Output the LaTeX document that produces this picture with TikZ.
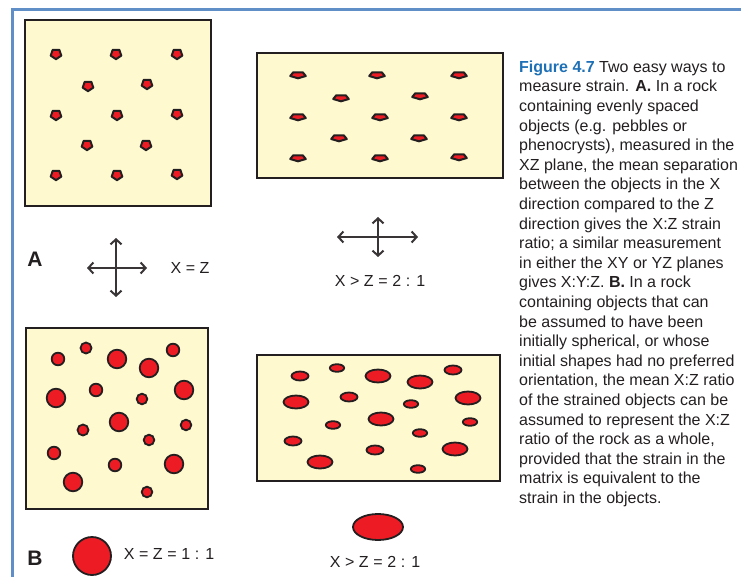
\documentclass[tikz,border=0pt]{standalone}
\usepackage{fontspec}
\setmainfont{Liberation Sans}
\usetikzlibrary{arrows.meta}
\definecolor{frameblue}{RGB}{96,143,200}
\definecolor{ink}{RGB}{35,31,32}
\definecolor{rockfill}{RGB}{255,249,208}
\definecolor{objred}{RGB}{237,28,36}
\definecolor{figblue}{RGB}{30,112,182}
\newcommand\widesp{\spaceskip=4.6pt\relax}
\tikzset{
  rockbox/.style={draw=ink, line width=2.8pt, fill=rockfill},
  obj/.style={draw=ink, line width=1.8pt, fill=objred},
  strainarrow/.style={draw=ink!90, line width=1.4pt, {Straight Barb[length=5pt,width=11pt,line width=2pt]}-{Straight Barb[length=5pt,width=11pt,line width=2pt]}},
  lbl/.style={text=ink, inner sep=0pt, font=\fontsize{16}{18}\selectfont\widesp},
  panel/.style={text=ink, inner sep=0pt, font=\fontsize{21}{22}\selectfont\bfseries},
  pent/.pic={\draw[obj, line width=2pt, line join=round] (90:1) -- (162:1) -- (234:1) -- (306:1) -- (18:1) -- cycle;}
}
\begin{document}
\begin{tikzpicture}[x=1pt,y=-1pt]
\useasboundingbox (0,0) rectangle (741,577);
% frame
\draw[frameblue, line width=3pt] (12,577) -- (12,10) -- (741,10);
% Box A1
\draw[rockbox] (25,20) rectangle (211,206);
\foreach \x/\y in {56/54,116/54,177/54, 88/86,147/84, 56/115,117/115,177/114, 87/145,146/145, 56/175,117/175,177/174}
  \pic[xscale=5.6,yscale=5.2] at (\x,\y) {pent};
% Box A2
\draw[rockbox] (257,53) rectangle (503,178);
\foreach \x/\y in {298/75,377/75,459/75, 341/98,420/96, 298/117,380/117,459/117, 339/138,419/138, 298/158,380/158,459/157}
  \pic[xscale=8.2,yscale=3.3] at (\x,\y) {pent};
% Box B1
\draw[rockbox] (26,328) rectangle (208,509);
\foreach \x/\y/\r in {58/359/6.3, 86/348/5.5, 117/359/9.3, 149/368/9.3, 173/350/6.3,
  56/398/9.3, 96/390/6.3, 142/399/5.3, 184/390/9.3, 119/422/9.3, 83/430/5.5,
  186/425/5.3, 149/440/5.3, 54/453/6.3, 115/465/6.3, 174/464/9.3, 73/482/9.3, 147/492/5.3}
  \draw[obj] (\x,\y) circle[radius=\r];
% Box B2
\draw[rockbox] (257,355) rectangle (500,481);
\foreach \x/\y/\a/\b in {300/376/8.5/4.5, 337/368/7.2/3.8, 378/376/12.5/6.5, 420/382/12.5/6.5, 453/370/8.5/4.5,
  296/402/12.5/6.5, 349/397/8.5/4.5, 411/404/7.2/3.8, 468/398/12.5/6.5, 381/419/12.5/6.5,
  333/425/7.2/3.8, 470/422/7.2/3.8, 420/433/7.2/3.8, 293/441/8.5/4.5, 375/450/8.5/4.5,
  455/449/12.5/6.5, 320/462/12.5/6.5, 418/469/7.2/3.8}
  \draw[obj] (\x,\y) circle[x radius=\a, y radius=\b];
% Strain crosses
\coordinate (a1l) at (87,268); \coordinate (a1r) at (147,268);
\coordinate (a1t) at (116,238); \coordinate (a1b) at (116,297);
\draw[strainarrow] (a1l) -- (a1r);
\draw[strainarrow] (a1t) -- (a1b);
\coordinate (a2l) at (337,237); \coordinate (a2r) at (418,237);
\coordinate (a2t) at (378,217); \coordinate (a2b) at (378,257);
\draw[strainarrow] (a2l) -- (a2r);
\draw[strainarrow] (a2t) -- (a2b);
% Labels
\node[panel] (pA) at (35,259) {A};
\node[panel] (pB) at (35,558) {B};
\node[lbl] (lxz) at (190,268) {X = Z};
\node[lbl] (lxz2) at (380,281) {X > Z = 2 : 1};
\node[lbl] (lxz3) at (169,554) {X = Z = 1 : 1};
\node[lbl] (lxz4) at (375,562) {X > Z = 2 : 1};
% Reference objects
\draw[obj] (92,556) circle[radius=19];
\draw[obj] (378,527) circle[x radius=25, y radius=13];
% Caption
\node[anchor=north west, inner sep=0pt, align=left, text=ink,
      font=\fontsize{16}{19.6}\selectfont] (cap) at (519,60.5) {%
{\color{figblue}\bfseries Figure 4.7}\ Two easy ways to\\
measure strain. \textbf{A.} In a rock\\
containing evenly spaced\\
objects (e.g. pebbles or\\
phenocrysts), measured in the\\
XZ plane, the mean separation\\
between the objects in the X\\
direction compared to the Z\\
direction gives the X:Z strain\\
ratio; a similar measurement\\
in either the XY or YZ planes\\
gives X:Y:Z. \textbf{B.} In a rock\\
containing objects that can\\
be assumed to have been\\
initially spherical, or whose\\
initial shapes had no preferred\\
orientation, the mean X:Z ratio\\
of the strained objects can be\\
assumed to represent the X:Z\\
ratio of the rock as a whole,\\
provided that the strain in the\\
matrix is equivalent to the\\
strain in the objects.};
\end{tikzpicture}
\end{document}
